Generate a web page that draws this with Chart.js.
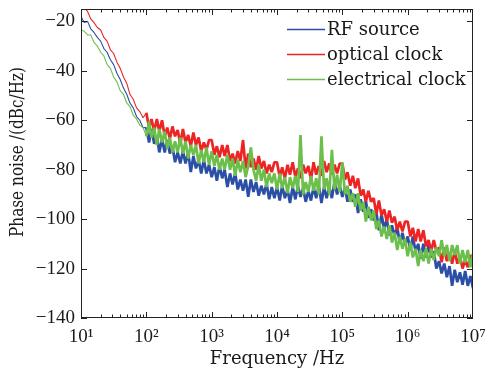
<!DOCTYPE html>
<html>
<head>
<meta charset="utf-8">
<script src="https://cdn.jsdelivr.net/npm/chart.js@4.4.0/dist/chart.umd.min.js"></script>
<style>
  html, body { margin: 0; padding: 0; background: #fff; }
  #chart { display: block; }
</style>
</head>
<body>
<canvas id="chart" width="490" height="373"></canvas>
<script>
// offset frequency (Hz), shared by all three traces
var freq = [
  10, 11.2, 12.6, 14.1, 15.8, 17.8, 20, 22.4, 25.1, 28.2, 31.6, 35.5, 39.8, 44.7, 50.1, 56.2, 63.1, 70.8, 79.4, 89.1,
  100, 110, 120, 132, 145, 158, 174, 191, 209, 229, 251, 275, 302, 331, 363, 398, 437, 479, 525, 575, 631, 692, 759, 832, 912,
  1000, 1100, 1200, 1320, 1450, 1580, 1740, 1910, 2090, 2290, 2510, 2750, 3020, 3310, 3630, 3980, 4370, 4790, 5250, 5750, 6310, 6920, 7590, 8320, 9120,
  1e4, 1.1e4, 1.2e4, 1.32e4, 1.45e4, 1.58e4, 1.74e4, 1.91e4, 2.09e4, 2.29e4, 2.51e4, 2.75e4, 3.02e4, 3.31e4, 3.63e4, 3.98e4, 4.37e4, 4.79e4, 5.25e4, 5.75e4, 6.31e4, 6.92e4, 7.59e4, 8.32e4, 9.12e4,
  1e5, 1.1e5, 1.2e5, 1.32e5, 1.45e5, 1.58e5, 1.74e5, 1.91e5, 2.09e5, 2.29e5, 2.51e5, 2.75e5, 3.02e5, 3.31e5, 3.63e5, 3.98e5, 4.37e5, 4.79e5, 5.25e5, 5.75e5, 6.31e5, 6.92e5, 7.59e5, 8.32e5, 9.12e5,
  1e6, 1.1e6, 1.2e6, 1.32e6, 1.45e6, 1.58e6, 1.74e6, 1.91e6, 2.09e6, 2.29e6, 2.51e6, 2.75e6, 3.02e6, 3.31e6, 3.63e6, 3.98e6, 4.37e6, 4.79e6, 5.25e6, 5.75e6, 6.31e6, 6.92e6, 7.59e6, 8.32e6, 9.12e6,
  1e7
];

// phase noise (dBc/Hz)
var rfSource = [
  -18, -20.5, -20, -23, -24.5, -26.5, -28, -31, -32.5, -35.5, -37.5, -41, -43.5, -47, -49.5, -53, -55, -58.5, -60, -63,
  -63, -69, -63.5, -69.5, -66.5, -73, -67.5, -73, -68, -73.5, -70.5, -77, -73, -77.5, -72.5, -77.5, -73, -81, -74.5, -79.5, -76, -81.5, -76, -81.5, -78,
  -83, -79, -84.5, -78.5, -83.5, -80, -87, -81.5, -86, -81.5, -88, -84, -88.5, -84, -91, -84, -89, -85, -90.5, -86.5, -90, -85.5, -92, -87, -91.5,
  -87, -92.5, -86.5, -91.5, -88, -93.5, -87, -92, -86.5, -91, -87.5, -93, -88.5, -92.5, -87, -91.5, -86.5, -93.5, -87, -91.5, -87, -91.5, -85, -90, -86.5,
  -91, -87.5, -93, -88, -93, -90, -97.5, -92, -97, -92.5, -99.5, -96, -100.5, -97, -104.5, -98, -104, -100, -106.5, -102.5, -107, -103, -110, -105.5, -110.5,
  -107, -112.5, -107, -113, -110, -116, -110, -115.5, -110.5, -115.5, -113, -120, -117, -122, -118, -123.5, -119, -127, -120.5, -125.5, -121.5, -126.5, -121, -127, -123,
  -128
];
var opticalClock = [
  -12, -14.5, -16, -19, -20.5, -22.5, -23.5, -26.5, -28, -31.5, -33, -36.5, -39, -42.5, -45, -49.5, -51.5, -55, -56.5, -59,
  -57, -63, -59.5, -64.5, -59.5, -64.5, -60, -66.5, -63, -67.5, -62.5, -66.5, -64, -69.5, -63.5, -69, -66, -70.5, -65, -70, -67, -72.5, -69, -72, -68,
  -68, -74, -70.5, -75, -70, -74.5, -70, -76.5, -73.5, -77.5, -72.5, -76.5, -68, -79.5, -73.5, -79, -75.5, -80, -74.5, -79.5, -76.5, -81.5, -78, -81, -77,
  -77, -83, -79, -83.5, -78, -82, -77, -83, -79.5, -83.5, -78, -81.5, -78.5, -84, -77, -82, -78.5, -82.5, -76.5, -81, -77.5, -82, -78, -81.5, -77.5,
  -77.5, -84, -81, -86.5, -82.5, -87.5, -83.5, -90.5, -88, -93, -88.5, -93, -91.5, -98, -92.5, -98.5, -96, -101, -96.5, -101.5, -99, -104.5, -101, -105, -101,
  -101, -107, -103.5, -109, -104, -109, -104.5, -111, -108.5, -113, -108.5, -113, -111.5, -117.5, -111.5, -117, -113.5, -118, -113, -118, -115, -120, -116.5, -119.5, -114.5,
  -118
];
var electricalClock = [
  -23.5, -24, -25.5, -25.5, -28.5, -30, -32.5, -34, -37.5, -39, -42.5, -44.5, -48, -49.5, -53, -54.5, -58, -59.5, -62, -63,
  -66.5, -60.5, -67, -63, -70, -63.5, -69, -64.5, -71.5, -67, -73, -68.5, -73, -67, -73.5, -68.5, -75.5, -70, -74, -70, -77.5, -72, -77, -71, -78,
  -72.5, -78.5, -74, -80, -75.5, -80, -74, -80, -75.5, -82.5, -76, -81, -76.5, -83, -78.5, -71, -80, -84.5, -78, -84.5, -80, -87, -81.5, -85.5, -81.5,
  -88, -81.5, -87.5, -83, -89.5, -83, -87.5, -82.5, -89, -66, -90, -85, -89, -82.5, -88.5, -83.5, -90, -66.5, -88, -83.5, -90, -72, -88, -82, -89,
  -77, -90, -86.5, -93, -89.5, -95, -89.5, -96.5, -93, -101, -95, -100.5, -96.5, -104, -100.5, -107, -103, -108, -102.5, -109.5, -105.5, -112.5, -107, -112, -108,
  -115, -109.5, -115.5, -112, -119, -112.5, -117, -112, -118, -112, -116.5, -111.5, -115, -108.5, -115, -110.5, -117, -110.5, -114.5, -110.5, -118, -112.5, -117.5, -112.5, -119.5,
  -114
];

var seriesColors = ['#2b4ea6', '#ee2424', '#6cbf4a'];
var xTicks = [1e1, 1e2, 1e3, 1e4, 1e5, 1e6, 1e7];
var xTickLabels = ["10\u00b9", "10\u00b2", "10\u00b3", "10\u2074", "10\u2075", "10\u2076", "10\u2077"];
var yTicks = [-140, -120, -100, -80, -60, -40, -20];
var yTickLabels = ["\u2212140", "\u2212120", "\u2212100", "\u221280", "\u221260", "\u221240", "\u221220"];

var serif = '"DejaVu Serif", serif';
var tickFamily = '"Liberation Serif", serif';
var ink = '#1a1a1a';

function points(values) {
  return freq.map(function (f, i) { return { x: f, y: values[i] }; });
}

function line(ctx, x1, y1, x2, y2) {
  ctx.beginPath();
  ctx.moveTo(x1, y1);
  ctx.lineTo(x2, y2);
  ctx.stroke();
}

// thin line at low offsets, a dense noisy band above 100 Hz
var traceWidth = function (c) {
  return c.p0.parsed.x < 95 ? 1.1 : 2.7;
};

// box, inward ticks, y title and the legend inside the plot
var decorations = {
  id: 'decorations',
  afterDraw: function (chart) {
    var ctx = chart.ctx, a = chart.chartArea;
    var xs = chart.scales.x, ys = chart.scales.y;
    ctx.save();
    ctx.strokeStyle = '#222';
    ctx.lineWidth = 1;
    ctx.strokeRect(a.left + 0.5, a.top + 0.5, a.right - a.left - 1, a.bottom - a.top - 1);

    for (var d = 10; d < 1e7; d *= 10) {
      for (var m = 1; m < 10; m++) {
        var px = Math.round(xs.getPixelForValue(d * m)) + 0.5;
        var len = m === 1 ? 6 : 3.5;
        line(ctx, px, a.bottom, px, a.bottom - len);
        line(ctx, px, a.top, px, a.top + len);
      }
    }
    yTicks.forEach(function (v) {
      var py = Math.round(ys.getPixelForValue(v)) + 0.5;
      line(ctx, a.left, py, a.left + 6, py);
      line(ctx, a.right, py, a.right - 6, py);
    });

    // y axis title
    var yTitle = 'Phase noise /(dBc/Hz)';
    ctx.save();
    ctx.font = '18px ' + serif;
    var w = ctx.measureText(yTitle).width;
    ctx.translate(18.5, 152);
    ctx.rotate(-Math.PI / 2);
    ctx.scale(Math.min(1, 170 / w), 1);
    ctx.fillStyle = ink;
    ctx.textAlign = 'center';
    ctx.textBaseline = 'middle';
    ctx.fillText(yTitle, 0, 0);
    ctx.restore();

    // legend
    var lx = a.right - 186, ly = a.top + 19.5;
    chart.data.datasets.forEach(function (ds, i) {
      var y = Math.round(ly + i * 25) + 0.5;
      ctx.strokeStyle = seriesColors[i];
      ctx.lineWidth = 1.3;
      line(ctx, lx, y, lx + 38, y);
      ctx.fillStyle = ink;
      ctx.font = '18px ' + serif;
      ctx.textAlign = 'left';
      ctx.textBaseline = 'middle';
      ctx.fillText(ds.label, lx + 40, y + 1);
    });
    ctx.restore();
  }
};

var ctx = document.getElementById('chart').getContext('2d');
var chart = new Chart(ctx, {
  type: 'line',
  data: {
    datasets: [
      { label: 'RF source', data: points(rfSource), borderColor: seriesColors[0], order: 2 },
      { label: 'optical clock', data: points(opticalClock), borderColor: seriesColors[1], order: 1 },
      { label: 'electrical clock', data: points(electricalClock), borderColor: seriesColors[2], order: 0 }
    ]
  },
  options: {
    responsive: false,
    animation: false,
    devicePixelRatio: 1,
    layout: { padding: { left: 0, right: 17, top: 9, bottom: 0 } },
    plugins: {
      legend: { display: false },
      tooltip: { enabled: false }
    },
    elements: {
      point: { radius: 0 },
      line: { borderWidth: 1.1, tension: 0, fill: false, borderJoinStyle: 'bevel' }
    },
    datasets: {
      line: { segment: { borderWidth: traceWidth } }
    },
    scales: {
      x: {
        type: 'logarithmic',
        min: 10,
        max: 1e7,
        afterBuildTicks: function (s) {
          s.ticks = xTicks.map(function (v) { return { value: v }; });
        },
        afterFit: function (s) {
          s.height = 55;
          s.paddingLeft = 0;
          s.paddingRight = 0;
        },
        grid: { display: false, drawTicks: false },
        border: { display: false },
        ticks: {
          autoSkip: false,
          maxRotation: 0,
          padding: 8,
          color: ink,
          font: { family: tickFamily, size: 19 },
          callback: function (v) {
            var i = xTicks.indexOf(v);
            return i < 0 ? '' : xTickLabels[i];
          }
        },
        title: {
          display: true,
          text: 'Frequency /Hz',
          color: ink,
          font: { family: serif, size: 18 },
          padding: { top: 0, bottom: 3 }
        }
      },
      y: {
        min: -140,
        max: -15,
        afterBuildTicks: function (s) {
          s.ticks = yTicks.map(function (v) { return { value: v }; });
        },
        afterFit: function (s) {
          s.width = 81;
          s.paddingTop = 0;
          s.paddingBottom = 0;
        },
        grid: { display: false, drawTicks: false },
        border: { display: false },
        ticks: {
          padding: 6,
          color: ink,
          font: { family: tickFamily, size: 19 },
          callback: function (v) {
            var i = yTicks.indexOf(v);
            return i < 0 ? '' : yTickLabels[i];
          }
        }
      }
    }
  },
  plugins: [decorations]
});
</script>
</body>
</html>
